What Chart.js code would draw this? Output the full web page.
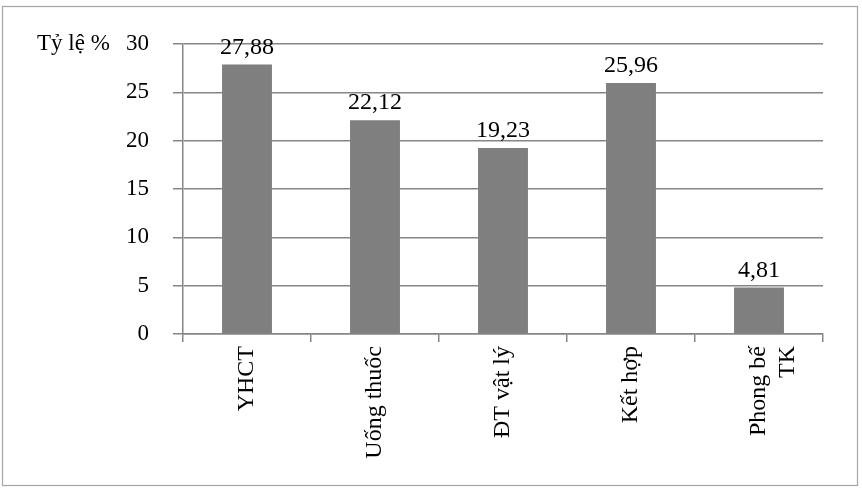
<!DOCTYPE html>
<html>
<head>
<meta charset="utf-8">
<script src="https://cdn.jsdelivr.net/npm/chart.js@4"></script>
<style>
  html, body { margin: 0; padding: 0; background: #fff; }
  #wrap { width: 862px; height: 490px; position: relative; }
</style>
</head>
<body>
<div id="wrap"><canvas id="chart"></canvas></div>
<script>
// Chart data
const categories = ['YHCT', 'Uống thuốc', 'ĐT vật lý', 'Kết hợp', ['Phong bế', 'TK']];
const rates = [27.88, 22.12, 19.23, 25.96, 4.81];
const yTicks = [0, 5, 10, 15, 20, 25, 30];
const yTitle = 'Tỷ lệ %';

const FONT = '"Liberation Serif", "Times New Roman", serif';
const GRID = '#868686';
Chart.defaults.font.family = FONT;

// outer frame + y title + value labels
const decorations = {
    id: 'decorations',
    beforeDraw(chart) {
        const c = chart.ctx;
        c.save();
        c.fillStyle = '#fff';
        c.fillRect(0, 0, chart.width, chart.height);
        c.strokeStyle = '#a6a6a6';
        c.lineWidth = 1.2;
        c.strokeRect(2.5, 6.5, 855, 479);
        c.restore();
    },
    afterDatasetsDraw(chart) {
        const c = chart.ctx;
        const y = chart.scales.y;
        c.save();
        c.font = '23px ' + FONT;
        c.fillStyle = '#000';
        c.textAlign = 'left';
        c.textBaseline = 'middle';
        c.fillText(yTitle, 37, y.getPixelForValue(30));

        c.font = '24px ' + FONT;
        c.textAlign = 'center';
        c.textBaseline = 'bottom';
        chart.getDatasetMeta(0).data.forEach((bar, i) => {
            c.fillText(rates[i].toFixed(2).replace('.', ','), bar.x, bar.y - 5);
        });
        c.restore();
    }
};

new Chart(document.getElementById('chart'), {
    type: 'bar',
    data: {
        labels: categories,
        datasets: [{
            data: rates,
            backgroundColor: '#7f7f7f',
            categoryPercentage: 1,
            barPercentage: 0.39
        }]
    },
    options: {
        responsive: true,
        maintainAspectRatio: false,
        animation: false,
        layout: { padding: { left: 0, top: 44, right: 39, bottom: 0 } },
        plugins: { legend: { display: false }, tooltip: { enabled: false } },
        scales: {
            x: {
                grid: { display: true, drawOnChartArea: false, drawTicks: true, tickLength: 8, color: GRID, lineWidth: 1.5, offset: true },
                border: { display: true, color: GRID, width: 1.5 },
                ticks: {
                    color: '#000',
                    font: { family: FONT, size: 24 },
                    minRotation: 90,
                    maxRotation: 90,
                    padding: 4,
                    autoSkip: false
                },
                afterFit(scale) { scale.height = 156; }
            },
            y: {
                min: 0,
                max: 30,
                afterBuildTicks(scale) { scale.ticks = yTicks.map(v => ({ value: v })); },
                grid: { color: GRID, lineWidth: 1.5, tickLength: 10 },
                border: { display: true, color: GRID, width: 1.5 },
                ticks: {
                    color: '#000',
                    font: { family: FONT, size: 23 },
                    padding: 24
                },
                afterFit(scale) { scale.width = 183; }
            }
        }
    },
    plugins: [decorations]
});
</script>
</body>
</html>
